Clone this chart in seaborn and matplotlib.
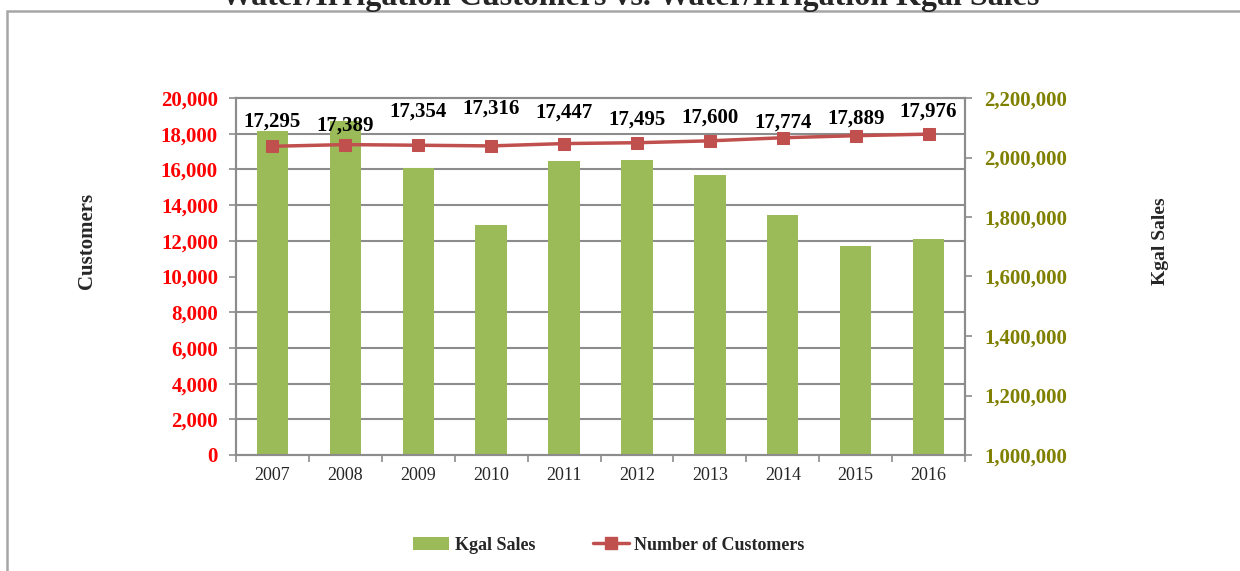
import matplotlib
matplotlib.use("Agg")
import matplotlib.pyplot as plt
import matplotlib.ticker as mticker
from matplotlib.lines import Line2D
from matplotlib.patches import Patch, Rectangle
import numpy as np
import pandas as pd
import seaborn as sns

years = ["2007", "2008", "2009", "2010", "2011", "2012", "2013", "2014", "2015", "2016"]
customers = [17295, 17389, 17354, 17316, 17447, 17495, 17600, 17774, 17889, 17976]
kgal_sales = [2089000, 2123000, 1965000, 1773000, 1988000, 1992000, 1941000, 1807000, 1703000, 1726000]

# label offsets above each marker (points), as placed in the original
label_offsets = [18, 14, 24, 27, 22, 17, 17, 11, 12, 16]

BAR = "#9BBB59"
LINE = "#C0504D"
GRID = "#8C8C8C"

sns.set_theme(style="white")
plt.rcParams["font.family"] = ["Liberation Serif", "DejaVu Serif"]

df = pd.DataFrame({"year": years, "customers": customers, "kgal": kgal_sales})

fig = plt.figure(figsize=(12.4, 5.71), dpi=100)
ax = fig.add_axes([236 / 1240, 1 - 455 / 571, (965 - 236) / 1240, (455 - 98) / 571])
ax2 = ax.twinx()

# bars on right axis (drawn underneath)
sns.barplot(data=df, x="year", y="kgal", ax=ax2, color=BAR, width=0.43,
            saturation=1, edgecolor="none", zorder=2)
ax2.set_ylim(1000000, 2200000)
ax2.yaxis.set_major_locator(mticker.MultipleLocator(200000))
ax2.yaxis.set_major_formatter(mticker.StrMethodFormatter("{x:,.0f}"))
ax2.yaxis.set_minor_locator(mticker.FixedLocator(np.linspace(1000000, 2200000, 11)))
ax2.grid(which="minor", axis="y", color=GRID, lw=1.5, zorder=0)
ax2.set_axisbelow(True)
ax2.tick_params(axis="y", which="major", right=True, direction="out", length=5,
                width=1.2, color=GRID, labelsize=15, labelcolor="#808000", pad=9)
ax2.tick_params(axis="y", which="minor", length=0)
for t in ax2.get_yticklabels():
    t.set_fontweight("bold")
ax2.set_ylabel("Kgal Sales", fontsize=14, fontweight="bold")
ax2.yaxis.set_label_coords(1.257, 0.60)

# customers line on left axis (drawn on top)
ax.set_zorder(ax2.get_zorder() + 1)
ax.patch.set_visible(False)
sns.lineplot(data=df, x="year", y="customers", ax=ax, color=LINE, lw=2.5,
             marker="s", markersize=9, markeredgecolor=LINE, sort=False)
ax.set_ylim(0, 20000)
ax.set_xlim(-0.5, len(years) - 0.5)
ax.yaxis.set_major_locator(mticker.MultipleLocator(2000))
ax.yaxis.set_major_formatter(mticker.StrMethodFormatter("{x:,.0f}"))
ax.tick_params(axis="y", left=True, direction="out", length=5, width=1.2,
               color=GRID, labelsize=15, labelcolor="red", pad=8)
for t in ax.get_yticklabels():
    t.set_fontweight("bold")
ax.set_ylabel("Customers", fontsize=15, fontweight="bold")
ax.yaxis.set_label_coords(-0.191, 0.60)
ax.set_xlabel("")
ax2.set_xlabel("")

for i, (v, off) in enumerate(zip(customers, label_offsets)):
    ax.annotate(f"{v:,}", (i, v), xytext=(0, off), textcoords="offset points",
                ha="center", va="center", fontsize=15, fontweight="bold", color="black")

# x axis: year labels, ticks at category boundaries
ax.set_xticks(range(len(years)))
ax.set_xticklabels(years)
ax.xaxis.set_minor_locator(mticker.FixedLocator(np.arange(-0.5, len(years), 1.0)))
ax.tick_params(axis="x", which="major", length=0, labelsize=13, pad=9)
ax.tick_params(axis="x", which="minor", bottom=True, direction="out", length=5,
               width=1.2, color=GRID)
ax2.tick_params(axis="x", which="both", length=0)

for a in (ax, ax2):
    for side, sp in a.spines.items():
        sp.set_color(GRID)
        sp.set_linewidth(1.5)
    a.spines["top"].set_visible(True)

# legend
handles = [
    Patch(facecolor=BAR, edgecolor="none", label="Kgal Sales"),
    Line2D([0], [0], color=LINE, lw=2.5, marker="s", markersize=8, label="Number of Customers"),
]
leg = fig.legend(handles=handles, loc="center", bbox_to_anchor=(609 / 1240, 1 - 545 / 571),
                 ncol=2, frameon=False, columnspacing=3.2, handlelength=2.0,
                 handletextpad=0.3, prop={"weight": "bold", "size": 13})

# outer chart frame and clipped title
fig.patches.append(Rectangle((7 / 1240, -0.05), 1.1, 1 - 11 / 571 + 0.05, transform=fig.transFigure,
                             fill=False, edgecolor="#A6A6A6", lw=1.8))
fig.text(630 / 1240, 1 - 5 / 571, "Water/Irrigation Customers vs. Water/Irrigation Kgal Sales",
         ha="center", va="baseline", fontsize=23, fontweight="bold")

fig.savefig("out.png", dpi=100)
